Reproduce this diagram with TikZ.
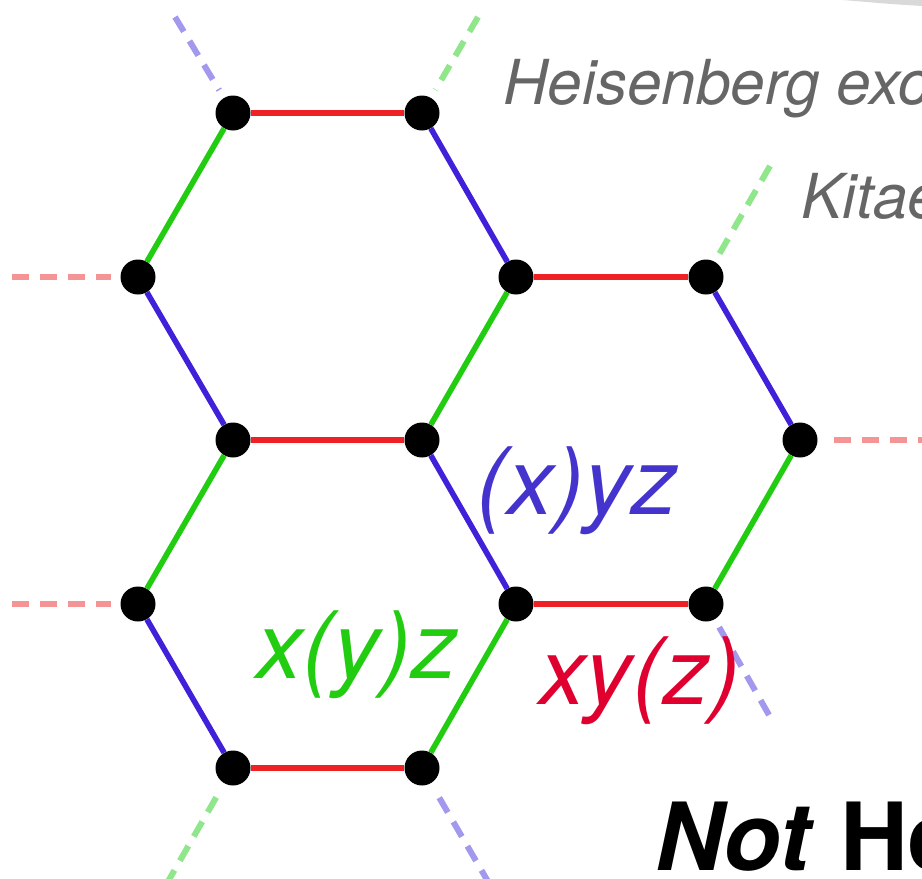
\documentclass[tikz,border=0pt]{standalone}
\usepackage{fontspec}
\setmainfont{TeX Gyre Heros}
\definecolor{cred}{RGB}{238,34,36}
\definecolor{cgreen}{RGB}{34,204,17}
\definecolor{cblue}{RGB}{64,32,216}
\definecolor{dred}{RGB}{245,148,148}
\definecolor{dgreen}{RGB}{144,230,138}
\definecolor{dblue}{RGB}{162,152,238}
\definecolor{tblue}{RGB}{68,51,204}
\definecolor{tgreen}{RGB}{34,204,17}
\definecolor{tred}{RGB}{224,0,48}
\definecolor{tgray}{RGB}{102,102,102}
\begin{document}
\begin{tikzpicture}[x=1pt,y=-1pt,
  site/.style={circle,fill=black,minimum size=35pt,inner sep=0pt},
  bondx/.style={line width=5.6pt,draw=cred},
  bondy/.style={line width=5.6pt,draw=cgreen},
  bondz/.style={line width=5.6pt,draw=cblue},
  stub/.style={line width=6pt,dash pattern=on 17pt off 11pt,shorten >=9pt},
  stubx/.style={stub,draw=dred},
  stuby/.style={stub,draw=dgreen},
  stubz/.style={stub,draw=dblue},
  graylbl/.style={anchor=base west,inner sep=0pt,text=tgray,font=\fontsize{62}{70}\selectfont\itshape},
  bondlbl/.style={anchor=base west,inner sep=0pt,font=\fontsize{93}{100}\selectfont\itshape}]
\useasboundingbox (0,0) rectangle (922,879);
% faint shadow at top right
\fill[gray!30] (843,0) -- (922,0) -- (922,6) .. controls (890,4) .. (843,0) -- cycle;
% sites
\node[site] (a1) at (233,113) {};
\node[site] (a2) at (422,113) {};
\node[site] (b1) at (138,277) {};
\node[site] (b2) at (516,277) {};
\node[site] (b3) at (706,277) {};
\node[site] (c1) at (233,440) {};
\node[site] (c2) at (422,440) {};
\node[site] (c3) at (800,440) {};
\node[site] (d1) at (138,604) {};
\node[site] (d2) at (516,604) {};
\node[site] (d3) at (706,604) {};
\node[site] (e1) at (233,768) {};
\node[site] (e2) at (422,768) {};
% free ends of dashed stubs
\coordinate (f1) at (175,17);
\coordinate (f2) at (478,17);
\coordinate (f3) at (12,277);
\coordinate (f4) at (770,166);
\coordinate (f5) at (935,440);
\coordinate (f6) at (12,604);
\coordinate (f7) at (769,715);
\coordinate (f8) at (166,885);
\coordinate (f9) at (490,885);
\draw[stubz] (f1) -- (a1);
\draw[stuby] (f2) -- (a2);
\draw[stubx] (f3) -- (b1);
\draw[stuby] (f4) -- (b3);
\draw[stubx] (f5) -- (c3);
\draw[stubx] (f6) -- (d1);
\draw[stubz] (f7) -- (d3);
\draw[stuby] (f8) -- (e1);
\draw[stubz] (f9) -- (e2);
% bonds
\draw[bondx] (a1) -- (a2);
\draw[bondy] (a1) -- (b1);
\draw[bondz] (a2) -- (b2);
\draw[bondz] (b1) -- (c1);
\draw[bondy] (b2) -- (c2);
\draw[bondx] (b2) -- (b3);
\draw[bondz] (b3) -- (c3);
\draw[bondx] (c1) -- (c2);
\draw[bondy] (c1) -- (d1);
\draw[bondz] (c2) -- (d2);
\draw[bondy] (c3) -- (d3);
\draw[bondx] (d2) -- (d3);
\draw[bondz] (d1) -- (e1);
\draw[bondy] (d2) -- (e2);
\draw[bondx] (e1) -- (e2);
% labels
\node[graylbl] (heis) at (503,104) {Heisenberg exchange};
\node[graylbl] (kit) at (801,218) {Kitaev};
\node[bondlbl,text=tblue] (lx) at (476,514) {(x)yz};
\node[bondlbl,text=tgreen] (ly) at (256,678) {x(y)z};
\node[bondlbl,text=tred] (lz) at (539,704) {xy(z)};
\node[anchor=base west,inner sep=0pt,font=\fontsize{94}{100}\selectfont\bfseries] (nh) at (655,870) {\textit{Not} Heisenberg};
\end{tikzpicture}
\end{document}
